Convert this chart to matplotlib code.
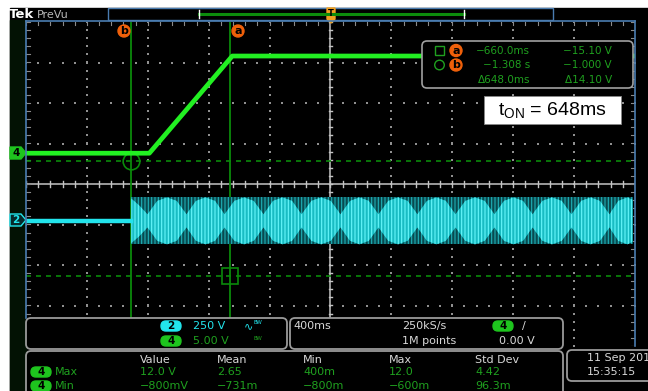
import numpy as np
import matplotlib.pyplot as plt
from matplotlib.patches import Rectangle, FancyBboxPatch, Polygon, Circle

W, H = 648, 391
plt.rcParams['hatch.linewidth'] = 0.8

# horizontal: 400 ms/div, 10 div, trigger in the centre
t_min, t_max = -2000, 2000
ms_per_div = 400

# channel 4 (gate drive), 5 V/div
ch4_offset_div = 0.76
ch4_v_per_div = 5.0
ch4_t = [-2000, -1190, -645, 2000]
ch4_v = [0.0, 0.0, 12.0, 12.0]

# channel 2 (mains), 250 V/div
ch2_offset_div = -0.91
ch2_v_per_div = 250.0
ch2_start = -1308
ch2_end = 1984
ch2_idle_t = [-2000, -1308]
ch2_idle_v = [0.0, 0.0]
ch2_peak_v = 145.0
# envelope of the bright part of the burst (fraction of peak)
ch2_env_t = [-1308, -1255, -1202, -1138, -1074, -1010, -946, -884, -821, -758,
             -696, -632, -568, -504, -440, -378, -315, -252, -190, -126, -62,
             2, 66, 128, 190, 252, 315, 379, 443, 507, 571, 633, 696, 758, 821,
             885, 949, 1013, 1077, 1139, 1202, 1265, 1327, 1391, 1455, 1519,
             1583, 1646, 1708, 1770, 1832, 1890, 1950, 1984]
ch2_env_a = [0.95, 0.65, 0.28, 0.85, 1.0, 0.85, 0.28, 0.85, 1.0, 0.85,
             0.28, 0.85, 1.0, 0.85, 0.28, 0.85, 1.0, 0.85, 0.28, 0.85, 1.0,
             0.85, 0.28, 0.85, 1.0, 0.85, 0.28, 0.85, 1.0, 0.85, 0.28, 0.85, 1.0, 0.85, 0.28,
             0.85, 1.0, 0.85, 0.28, 0.85, 1.0, 0.85, 0.28, 0.85, 1.0, 0.85,
             0.28, 0.85, 1.0, 0.85, 0.28, 0.85, 1.0, 0.9]

# cursors
cur_a_t, cur_b_t = -660.0, -1308.0
cur_a_v, cur_b_v = -15.10, -1.000

cursor_rows = [['−660.0ms', '−15.10 V'], ['−1.308 s', '−1.000 V'], ['Δ648.0ms', 'Δ14.10 V']]
meas_cols = ['Value', 'Mean', 'Min', 'Max', 'Std Dev']
meas_max = ['12.0 V', '2.65', '400m', '12.0', '4.42']
meas_min = ['−800mV', '−731m', '−800m', '−600m', '96.3m']

GREEN = '#22f022'
CUR_GREEN = '#0a8a0a'
TXT_GREEN = '#1fa01f'
CYAN = '#22e4ec'
ORANGE = '#f0600a'
GRAY_TXT = '#d8d8d8'
BLUE = '#4a7cb0'


def y4(v):
    return ch4_offset_div + v / ch4_v_per_div


def y2(v):
    return ch2_offset_div + v / ch2_v_per_div


fig = plt.figure(figsize=(W / 100, H / 100), dpi=100)
fig.patch.set_facecolor('white')

bg = fig.add_axes([0, 0, 1, 1], zorder=0)
bg.set_xlim(0, W)
bg.set_ylim(H, 0)
bg.axis('off')
bg.add_patch(Rectangle((10, 8), W - 10, H - 8, color='black'))
bg.add_patch(Rectangle((10, 20), 16, H - 20, color='#031204'))

ax = fig.add_axes([26 / W, 1 - 346 / H, 609 / W, 324 / H], zorder=1)
ax.set_facecolor('black')
ax.set_xlim(t_min, t_max)
ax.set_ylim(-4, 4)
ax.set_xticks([])
ax.set_yticks([])
for s in ax.spines.values():
    s.set_visible(False)

# graticule dots
for k in range(1, 10):
    if k == 5:
        continue
    x = t_min + k * ms_per_div
    yy = np.arange(-4, 4.01, 0.2)
    ax.scatter(np.full(len(yy), x), yy, s=1.0, marker='s', color='#909090', lw=0)
for k in range(1, 8):
    if k == 4:
        continue
    y = -4 + k
    xx = np.arange(t_min, t_max + 1, ms_per_div / 5)
    ax.scatter(xx, np.full(len(xx), y), s=1.0, marker='s', color='#909090', lw=0)

# centre cross with minor ticks
ax.axhline(0, color='#c4c4c4', lw=1.1)
ax.axvline(0, color='#c4c4c4', lw=1.1)
for x in np.arange(t_min, t_max + 1, ms_per_div / 5):
    ax.plot([x, x], [-0.08, 0.08], color='#c4c4c4', lw=1)
for y in np.arange(-4, 4.01, 0.2):
    ax.plot([-12, 12], [y, y], color='#c4c4c4', lw=1)
# edge ticks
for y in np.arange(-4, 4.01, 0.2):
    ax.plot([t_min, t_min + 25], [y, y], color='#8a8a8a', lw=0.8)
    ax.plot([t_max - 25, t_max], [y, y], color='#8a8a8a', lw=0.8)
for x in np.arange(t_min, t_max + 1, ms_per_div / 5):
    ax.plot([x, x], [4, 3.93], color='#8a8a8a', lw=0.8)

# cursors
ax.axvline(cur_a_t, color=CUR_GREEN, lw=1.3)
ax.axvline(cur_b_t, color=CUR_GREEN, lw=1.3)
ax.axhline(y4(cur_a_v), color=CUR_GREEN, lw=1.2, dashes=(3, 3))
ax.axhline(y4(cur_b_v), color=CUR_GREEN, lw=1.2, dashes=(3, 3))
ax.plot([cur_a_t], [y4(cur_a_v)], marker='s', ms=12, mfc='none', mec=CUR_GREEN, mew=1.2)
ax.plot([cur_b_t], [y4(cur_b_v)], marker='o', ms=12, mfc='none', mec=CUR_GREEN, mew=1.2)

# channel 2 burst: dark band with bright lobes, both drawn as vertical strokes
c2 = ch2_offset_div
half = ch2_peak_v / ch2_v_per_div
ax.fill_between([ch2_start, ch2_end], c2 - half, c2 + half, facecolor='#084a4f',
                edgecolor='#1fb0b7', hatch='|' * 5, lw=0, zorder=3)
env = np.array(ch2_env_a) * half
ax.fill_between(ch2_env_t, c2 - env, c2 + env, facecolor='#19bcc3',
                edgecolor='#66f8fc', hatch='|' * 5, lw=0, zorder=4)
ax.plot(ch2_idle_t, [y2(v) for v in ch2_idle_v], color=CYAN, lw=3.2, zorder=5)

# channel 4 gate
ax.plot(ch4_t, [y4(v) for v in ch4_v], color=GREEN, lw=3.4, zorder=6,
        solid_capstyle='butt')

# overlay in pixel coordinates
ov = fig.add_axes([0, 0, 1, 1], zorder=2)
ov.set_xlim(0, W)
ov.set_ylim(H, 0)
ov.axis('off')

ov.plot([26, 26], [21, 318], color=BLUE, lw=1.2)
ov.plot([26, 635], [21, 21], color=BLUE, lw=1.2)
ov.plot([635, 635], [21, 346], color=BLUE, lw=1.2)

# header
ov.text(9, 14, 'Tek', color='white', fontsize=9.5, fontweight='bold', va='center')
ov.text(37, 14.5, 'PreVu', color='#b8b8b8', fontsize=8, va='center')
ov.add_patch(Rectangle((108, 8), 445, 12, facecolor='black', edgecolor=BLUE, lw=1))
ov.plot([199, 464], [14, 14], color='#0c8c0c', lw=2.2)
ov.plot([199, 199], [10, 18], color='white', lw=1)
ov.plot([464, 464], [10, 18], color='white', lw=1)
ov.add_patch(Polygon([(327, 8), (335, 8), (335, 19), (331, 23), (327, 19)], color='#f0a020'))
ov.text(331, 13, 'T', color='black', fontsize=6, ha='center', va='center', fontweight='bold')

# cursor tags
for lbl, px in [('b', 124), ('a', 238)]:
    ov.add_patch(Circle((px, 31), 6, color=ORANGE))
    ov.text(px, 31, lbl, color='black', fontsize=8, fontweight='bold', ha='center', va='center')

# channel markers
ov.add_patch(Polygon([(10, 147), (21, 147), (26, 153), (21, 159), (10, 159)], color='#1ec41e'))
ov.text(16, 153, '4', color='black', fontsize=7.5, fontweight='bold', ha='center', va='center')
ov.add_patch(Polygon([(10, 214), (21, 214), (26, 220), (21, 226), (10, 226)],
                     facecolor='#062a2c', edgecolor=CYAN, lw=1))
ov.text(16, 220, '2', color=CYAN, fontsize=7.5, fontweight='bold', ha='center', va='center')

# cursor readout
ov.add_patch(FancyBboxPatch((422, 41), 211, 47, boxstyle='round,pad=0,rounding_size=5',
                            facecolor='black', edgecolor='#a0a0a0', lw=1.2))
ov.add_patch(Rectangle((435, 46), 9, 9, fill=False, edgecolor=TXT_GREEN, lw=1))
ov.add_patch(Circle((439.5, 65), 4.8, fill=False, edgecolor=TXT_GREEN, lw=1))
for lbl, py in [('a', 50.5), ('b', 65)]:
    ov.add_patch(Circle((456, py), 6, color=ORANGE))
    ov.text(456, py, lbl, color='black', fontsize=8, fontweight='bold', ha='center', va='center')
for i, (tv, vv) in enumerate(cursor_rows):
    py = 51 + i * 14.5
    ov.text(530, py, tv, color=TXT_GREEN, fontsize=7.5, ha='right', va='center')
    ov.text(612, py, vv, color=TXT_GREEN, fontsize=7.5, ha='right', va='center')

# t_on annotation
ov.add_patch(Rectangle((484, 96), 137, 28, facecolor='white', edgecolor='#888888', lw=0.6))
ov.text(552, 110.5, r'$\mathregular{t_{ON}}$ = 648ms', color='black', fontsize=14,
        ha='center', va='center', family='Liberation Sans')


def panel(x0, y0, w, h):
    ov.add_patch(FancyBboxPatch((x0, y0), w, h, boxstyle='round,pad=0,rounding_size=5',
                                facecolor='black', edgecolor='#9a9a9a', lw=1.3))


def pill(cx, cy, txt, face, w=20, h=10):
    ov.add_patch(FancyBboxPatch((cx - w / 2, cy - h / 2), w, h,
                                boxstyle='round,pad=0,rounding_size=5', color=face))
    ov.text(cx, cy, txt, color='black', fontsize=7.5, fontweight='bold', ha='center', va='center')


# vertical settings
panel(26, 318, 261, 31)
pill(171, 326, '2', CYAN)
ov.text(193, 326, '250 V', color=CYAN, fontsize=8, va='center')
ov.text(244, 326, '∿', color=CYAN, fontsize=8, va='center')
ov.text(254, 323, 'BW', color=CYAN, fontsize=4, va='center')
pill(171, 341, '4', '#1ec41e')
ov.text(193, 341, '5.00 V', color=TXT_GREEN, fontsize=8, va='center')
ov.text(254, 338, 'BW', color=TXT_GREEN, fontsize=4, va='center')

# horizontal / trigger
panel(290, 318, 273, 31)
ov.text(293, 326, '400ms', color=GRAY_TXT, fontsize=8, va='center')
ov.text(402, 326, '250kS/s', color=GRAY_TXT, fontsize=8, va='center')
ov.text(402, 341, '1M points', color=GRAY_TXT, fontsize=8, va='center')
pill(503, 326, '4', '#1ec41e')
ov.text(522, 326, '/', color=GRAY_TXT, fontsize=8, va='center')
ov.text(499, 341, '0.00 V', color=GRAY_TXT, fontsize=8, va='center')

# measurements
panel(26, 351, 537, 60)
col_x = [140, 217, 303, 389, 475]
for cx, name in zip(col_x, meas_cols):
    ov.text(cx, 360, name, color=GRAY_TXT, fontsize=8, va='center')
for py, label, vals in [(372, 'Max', meas_max), (386, 'Min', meas_min)]:
    pill(41, py, '4', '#1ec41e')
    ov.text(55, py, label, color=TXT_GREEN, fontsize=8, va='center')
    for cx, v in zip(col_x, vals):
        ov.text(cx, py, v, color=TXT_GREEN, fontsize=8, va='center')

# date
panel(567, 350, 100, 31)
ov.text(587, 358, '11 Sep 2017', color=GRAY_TXT, fontsize=8, va='center')
ov.text(587, 372, '15:35:15', color=GRAY_TXT, fontsize=8, va='center')

fig.savefig('out.png', dpi=100)
